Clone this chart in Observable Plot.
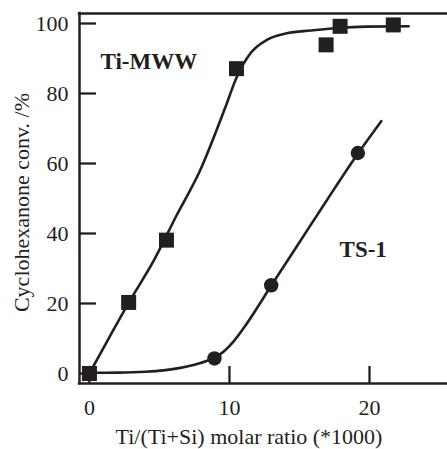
<!DOCTYPE html>
<html><head><meta charset="utf-8">
<script src="https://cdn.jsdelivr.net/npm/d3@7"></script>
<script src="https://cdn.jsdelivr.net/npm/@observablehq/plot@0.6"></script>
<style>body{margin:0;background:#fff}</style>
</head><body><div id="chart"></div>
<script>
// measured points
const mwwX = [0, 2.8, 5.5, 10.5, 16.9, 17.9, 21.7];
const mwwY = [0, 20.3, 38.1, 87.1, 93.9, 99.2, 99.6];
const ts1X = [8.93, 12.98, 19.17];
const ts1Y = [4.3, 25.2, 63];
// fitted curves
const mwwCurveX = [0, 1.4, 2.8, 4.6, 6.2, 7.9, 9.7, 10.5, 11.5, 12.7, 14.1, 15.8, 17.9, 19.8, 22.8];
const mwwCurveY = [0, 10.2, 20.2, 32.3, 45, 58, 76, 84.5, 91.5, 95.4, 97.2, 98, 98.8, 99.1, 99.2];
const ts1CurveX = [0, 2, 4, 5.3, 6.5, 7.5, 8.5, 9.3, 10.3, 11, 13, 15, 17, 19.2, 20.84];
const ts1CurveY = [0.2, 0.25, 0.5, 0.9, 1.6, 2.5, 3.8, 5.4, 9.2, 12.9, 25.2, 37.5, 49.8, 63, 72.1];
// labels
const seriesNames = ["Ti-MWW", "TS-1"];
const seriesLabelX = [0.79, 17.86];
const seriesLabelY = [87.1, 33.4];
const xTicks = [0, 10, 20];
const yTicks = [0, 20, 40, 60, 80, 100];
const xLabel = "Ti/(Ti+Si) molar ratio (*1000)";
const yLabel = "Cyclohexanone conv. /%";
const xDomain = [-0.71, 25.57];
const yDomain = [-2.86, 102.86];

const ink = "#231f20";
const mww = mwwX.map((x, i) => ({x, y: mwwY[i]}));
const ts1 = ts1X.map((x, i) => ({x, y: ts1Y[i]}));
const mwwCurve = mwwCurveX.map((x, i) => ({x, y: mwwCurveY[i]}));
const ts1Curve = ts1CurveX.map((x, i) => ({x, y: ts1CurveY[i]}));
const seriesLabels = seriesNames.map((t, i) => ({t, x: seriesLabelX[i], y: seriesLabelY[i]}));

const chart = Plot.plot({
  width: 447,
  height: 449,
  marginLeft: 79,
  marginRight: 0,
  marginTop: 13,
  marginBottom: 66,
  style: {fontFamily: "'Liberation Serif', 'Times New Roman', serif", fontSize: "22px", color: ink, background: "#fff"},
  x: {domain: xDomain},
  y: {domain: yDomain},
  marks: [
    Plot.line(mwwCurve, {x: "x", y: "y", stroke: ink, strokeWidth: 2.6, curve: "monotone-x"}),
    Plot.line(ts1Curve, {x: "x", y: "y", stroke: ink, strokeWidth: 2.6, curve: "monotone-x"}),
    Plot.dot(mww, {x: "x", y: "y", symbol: "square", r: 8.46, fill: ink, stroke: null}),
    Plot.dot(ts1, {x: "x", y: "y", symbol: "circle", r: 7.2, fill: ink, stroke: null}),
    Plot.ruleX([xDomain[0]], {stroke: ink, strokeWidth: 2.5, strokeLinecap: "square"}),
    Plot.ruleY(yDomain, {stroke: ink, strokeWidth: 2.5, strokeLinecap: "square"}),
    Plot.axisY(yTicks, {tickSize: -17, tickFormat: () => "", strokeWidth: 2.3, label: null}),
    Plot.axisY(yTicks, {tickSize: 0, tickPadding: 11, fontSize: 22, label: null}),
    Plot.axisX(xTicks, {tickSize: -17, tickFormat: () => "", strokeWidth: 2.3, label: null}),
    Plot.axisX(xTicks, {tickSize: 0, tickPadding: 16, fontSize: 22, label: null}),
    Plot.text([xLabel], {text: d => d, frameAnchor: "bottom", textAnchor: "middle", dx: -14.5, dy: 53.6, lineAnchor: "middle", fontSize: 22, fill: ink}),
    Plot.text([yLabel], {text: d => d, frameAnchor: "left", textAnchor: "middle", rotate: -90, dx: -58, dy: 4, lineAnchor: "middle", fontSize: 22, fill: ink}),
    Plot.text(seriesLabels, {x: "x", y: "y", text: "t", textAnchor: "start", lineAnchor: "bottom", fontSize: 23, fontWeight: "bold", fill: ink})
  ]
});
document.getElementById("chart").appendChild(chart);
</script>
</body></html>
